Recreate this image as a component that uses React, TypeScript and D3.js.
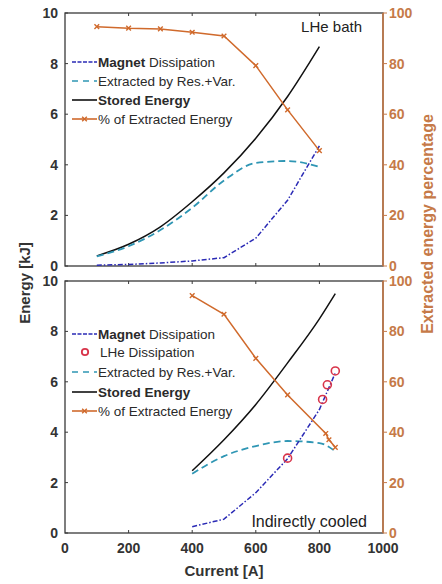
import React, { useEffect, useRef } from 'react';
import * as d3 from 'd3';

// LHe bath (top panel)
const bathCurrent = [100, 200, 300, 400, 500, 600, 700, 800];
const bathMagnet = [0.03, 0.06, 0.12, 0.2, 0.33, 1.1, 2.6, 4.75];
const bathExtracted = [0.38, 0.78, 1.42, 2.3, 3.38, 4.07, 4.15, 3.92];
const bathStored = [0.4, 0.86, 1.55, 2.54, 3.68, 5.05, 6.7, 8.67];
const bathPercent = [94.6, 94, 93.7, 92.4, 90.9, 79.2, 61.7, 45.6];

// Indirectly cooled (bottom panel)
const coolCurrent = [400, 500, 600, 700, 800, 850];
const coolMagnet = [0.25, 0.55, 1.6, 2.95, 4.9, 6.35];
const coolExtracted = [2.35, 3.05, 3.45, 3.65, 3.57, 3.24];
const coolStored = [2.47, 3.7, 5.1, 6.75, 8.5, 9.5];
const coolPctCurrent = [400, 500, 600, 700, 820, 830, 850];
const coolPercent = [94.2, 86.8, 69.3, 54.8, 39.5, 37, 34];
const lheCurrent = [700, 810, 825, 850];
const lheDissipation = [2.97, 5.3, 5.88, 6.43];

const xTicks = [0, 200, 400, 600, 800, 1000];
const yTicks = [0, 2, 4, 6, 8, 10];
const pctTicks = [0, 20, 40, 60, 80, 100];

const BLUE = '#2a2ab5';
const CYAN = '#2f96b4';
const ORANGE = '#d06a2c';
const AXIS_ORANGE = '#c67a48';
const RED = '#d8344a';

type Pt = [number, number];

const App: React.FC = () => {
  const svgRef = useRef<SVGSVGElement>(null);

  useEffect(() => {
    if (!svgRef.current) return;
    const svg = d3.select(svgRef.current);
    svg.selectAll('*').remove();

    const x = d3.scaleLinear().domain([0, 1000]).range([65, 383]);
    const font = 'Liberation Sans, Arial, sans-serif';

    const drawPanel = (top: number, bottom: number, showX: boolean) => {
      const y = d3.scaleLinear().domain([0, 10]).range([bottom, top]);
      const yp = d3.scaleLinear().domain([0, 100]).range([bottom, top]);
      const g = svg.append('g');

      // box
      g.append('rect')
        .attr('x', x(0)).attr('y', top)
        .attr('width', x(1000) - x(0)).attr('height', bottom - top)
        .attr('fill', 'none').attr('stroke', '#3a3a3a').attr('stroke-width', 1.3);
      g.append('line')
        .attr('x1', x(1000)).attr('x2', x(1000)).attr('y1', top).attr('y2', bottom)
        .attr('stroke', AXIS_ORANGE).attr('stroke-width', 1.6);

      // x ticks (inward, top and bottom)
      xTicks.slice(1, -1).forEach(t => {
        g.append('line').attr('x1', x(t)).attr('x2', x(t)).attr('y1', bottom).attr('y2', bottom - 3)
          .attr('stroke', '#3a3a3a');
        g.append('line').attr('x1', x(t)).attr('x2', x(t)).attr('y1', top).attr('y2', top + 3)
          .attr('stroke', '#3a3a3a');
      });
      if (showX) {
        g.selectAll('text.xt').data(xTicks).enter().append('text')
          .attr('x', d => x(d)).attr('y', bottom + 20)
          .attr('text-anchor', 'middle').attr('font-family', font)
          .attr('font-weight', 'bold').attr('font-size', 14).attr('fill', '#333')
          .text(d => d);
      }

      // left y ticks
      yTicks.forEach(t => {
        g.append('line').attr('x1', x(0)).attr('x2', x(0) + 3).attr('y1', y(t)).attr('y2', y(t))
          .attr('stroke', '#3a3a3a');
      });
      g.selectAll('text.yt').data(yTicks).enter().append('text')
        .attr('x', 58).attr('y', d => y(d) + 5)
        .attr('text-anchor', 'end').attr('font-family', font)
        .attr('font-weight', 'bold').attr('font-size', 14).attr('fill', '#333')
        .text(d => d);

      // right y ticks
      pctTicks.forEach(t => {
        g.append('line').attr('x1', x(1000)).attr('x2', x(1000) + 4).attr('y1', yp(t)).attr('y2', yp(t))
          .attr('stroke', AXIS_ORANGE);
      });
      g.selectAll('text.pt').data(pctTicks).enter().append('text')
        .attr('x', 389).attr('y', d => yp(d) + 5)
        .attr('font-family', font)
        .attr('font-weight', 'bold').attr('font-size', 14).attr('fill', AXIS_ORANGE)
        .text(d => d);

      return { g, y, yp };
    };

    const smooth = (ys: d3.ScaleLinear<number, number>) =>
      d3.line<Pt>().x(d => x(d[0])).y(d => ys(d[1])).curve(d3.curveMonotoneX);
    const straight = (ys: d3.ScaleLinear<number, number>) =>
      d3.line<Pt>().x(d => x(d[0])).y(d => ys(d[1]));
    const zip = (a: number[], b: number[]): Pt[] => a.map((v, i) => [v, b[i]]);

    const symX = d3.symbol().type((d3 as any).symbolTimes || d3.symbolCross).size(16);

    const drawSeries = (
      g: d3.Selection<SVGGElement, unknown, null, undefined>,
      y: d3.ScaleLinear<number, number>,
      yp: d3.ScaleLinear<number, number>,
      cur: number[], magnet: number[], extracted: number[], stored: number[],
      pctCur: number[], pct: number[]
    ) => {
      g.append('path').datum(zip(cur, stored)).attr('d', smooth(y))
        .attr('fill', 'none').attr('stroke', '#111').attr('stroke-width', 1.5);
      g.append('path').datum(zip(cur, extracted)).attr('d', smooth(y))
        .attr('fill', 'none').attr('stroke', CYAN).attr('stroke-width', 1.8)
        .attr('stroke-dasharray', '7,4');
      g.append('path').datum(zip(cur, magnet)).attr('d', straight(y))
        .attr('fill', 'none').attr('stroke', BLUE).attr('stroke-width', 1.5)
        .attr('stroke-dasharray', '5,2,1.5,2');
      const pdata = zip(pctCur, pct);
      g.append('path').datum(pdata).attr('d', straight(yp))
        .attr('fill', 'none').attr('stroke', ORANGE).attr('stroke-width', 1.5);
      g.selectAll('path.mk').data(pdata).enter().append('path')
        .attr('class', 'mk')
        .attr('transform', d => `translate(${x(d[0])},${yp(d[1])})`)
        .attr('d', symX as any)
        .attr('fill', 'none').attr('stroke', ORANGE).attr('stroke-width', 1.4);
    };

    const legend = (
      g: d3.Selection<SVGGElement, unknown, null, undefined>,
      items: { kind: string; bold: string; rest: string; y: number }[]
    ) => {
      items.forEach(it => {
        const ly = it.y;
        if (it.kind === 'circle') {
          g.append('circle').attr('cx', 85).attr('cy', ly).attr('r', 3.2)
            .attr('fill', 'none').attr('stroke', RED).attr('stroke-width', 1.8);
        } else {
          const ln = g.append('line').attr('x1', 72).attr('x2', 97).attr('y1', ly).attr('y2', ly)
            .attr('stroke-width', 1.6);
          if (it.kind === 'magnet') ln.attr('stroke', BLUE).attr('stroke-dasharray', '4,1.5');
          if (it.kind === 'extracted') ln.attr('stroke', CYAN).attr('stroke-dasharray', '6,5');
          if (it.kind === 'stored') ln.attr('stroke', '#111');
          if (it.kind === 'pct') {
            ln.attr('stroke', ORANGE);
            g.append('path').attr('transform', `translate(84.5,${ly})`).attr('d', symX as any)
              .attr('fill', 'none').attr('stroke', ORANGE).attr('stroke-width', 1.4);
          }
        }
        const t = g.append('text').attr('x', it.kind === 'circle' ? 100 : 98).attr('y', ly + 4.5)
          .attr('font-family', font).attr('font-size', 13.5).attr('fill', '#2a2a2a');
        t.append('tspan').attr('font-weight', 'bold').text(it.bold);
        t.append('tspan').text(it.rest);
      });
    };

    // top panel
    const p1 = drawPanel(13, 266, false);
    drawSeries(p1.g, p1.y, p1.yp, bathCurrent, bathMagnet, bathExtracted, bathStored, bathCurrent, bathPercent);
    legend(p1.g, [
      { kind: 'magnet', bold: 'Magnet', rest: ' Dissipation', y: 62 },
      { kind: 'extracted', bold: '', rest: 'Extracted by Res.+Var.', y: 81 },
      { kind: 'stored', bold: 'Stored Energy', rest: '', y: 100 },
      { kind: 'pct', bold: '', rest: '% of Extracted Energy', y: 119 },
    ]);
    p1.g.append('text').attr('x', 362).attr('y', 32).attr('text-anchor', 'end')
      .attr('font-family', font).attr('font-size', 15).attr('fill', '#222').text('LHe bath');

    // bottom panel
    const p2 = drawPanel(281, 533, true);
    drawSeries(p2.g, p2.y, p2.yp, coolCurrent, coolMagnet, coolExtracted, coolStored, coolPctCurrent, coolPercent);
    p2.g.selectAll('circle.lhe').data(zip(lheCurrent, lheDissipation)).enter().append('circle')
      .attr('class', 'lhe')
      .attr('cx', d => x(d[0])).attr('cy', d => p2.y(d[1])).attr('r', 4)
      .attr('fill', 'none').attr('stroke', RED).attr('stroke-width', 1.6);
    legend(p2.g, [
      { kind: 'magnet', bold: 'Magnet', rest: ' Dissipation', y: 334 },
      { kind: 'circle', bold: '', rest: 'LHe Dissipation', y: 352 },
      { kind: 'extracted', bold: '', rest: 'Extracted by Res.+Var.', y: 372 },
      { kind: 'stored', bold: 'Stored Energy', rest: '', y: 392 },
      { kind: 'pct', bold: '', rest: '% of Extracted Energy', y: 411 },
    ]);
    p2.g.append('text').attr('x', 367).attr('y', 527).attr('text-anchor', 'end')
      .attr('font-family', font).attr('font-size', 16).attr('fill', '#222').text('Indirectly cooled');

    // axis titles
    svg.append('text').attr('x', 224).attr('y', 576).attr('text-anchor', 'middle')
      .attr('font-family', font).attr('font-weight', 'bold').attr('font-size', 15)
      .attr('fill', '#333').text('Current [A]');
    svg.append('text').attr('transform', 'translate(30,283) rotate(-90)').attr('text-anchor', 'middle')
      .attr('font-family', font).attr('font-weight', 'bold').attr('font-size', 15)
      .attr('fill', '#333').text('Energy [kJ]');
    svg.append('text').attr('transform', 'translate(433,224) rotate(-90)').attr('text-anchor', 'middle')
      .attr('font-family', font).attr('font-weight', 'bold').attr('font-size', 16)
      .attr('fill', AXIS_ORANGE).text('Extracted energy percentage');
  }, []);

  return (
    <svg ref={svgRef} width={442} height={584}
      style={{ position: 'absolute', left: 0, top: 0, background: '#fff' }} />
  );
};

export default App;
